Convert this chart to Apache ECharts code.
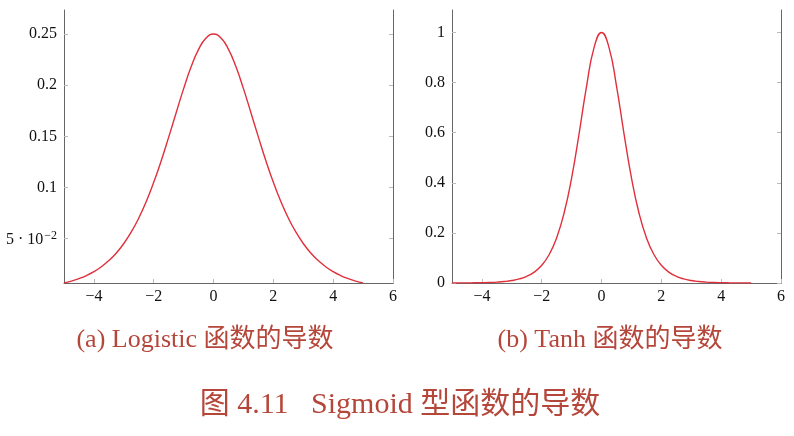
<!DOCTYPE html>
<html>
<head>
<meta charset="utf-8">
<script src="https://cdn.jsdelivr.net/npm/echarts@6/dist/echarts.min.js"></script>
<style>
  html, body {margin: 0; padding: 0; background: #fff;}
  #main {width: 794px; height: 436px;}
</style>
</head>
<body>
<div id="main"></div>
<script>
const xs = [-5, -4.75, -4.5, -4.25, -4, -3.75, -3.5, -3.25, -3, -2.75, -2.5, -2.25, -2, -1.75, -1.5, -1.25, -1, -0.75, -0.5, -0.25,
    0, 0.25, 0.5, 0.75, 1, 1.25, 1.5, 1.75, 2, 2.25, 2.5, 2.75, 3, 3.25, 3.5, 3.75, 4, 4.25, 4.5, 4.75, 5];

// (a) logistic derivative
const logisticVals = [0.0067, 0.0085, 0.0109, 0.0139, 0.0177, 0.0225, 0.0285, 0.0359, 0.0452, 0.0565, 0.0701, 0.0863, 0.105, 0.1261, 0.1492, 0.1731, 0.1966, 0.2179, 0.235, 0.2461,
    0.25, 0.2461, 0.235, 0.2179, 0.1966, 0.1731, 0.1492, 0.1261, 0.105, 0.0863, 0.0701, 0.0565, 0.0452, 0.0359, 0.0285, 0.0225, 0.0177, 0.0139, 0.0109, 0.0085, 0.0067];

// (b) tanh derivative
const tanhVals = [0.0002, 0.0003, 0.0005, 0.0008, 0.0013, 0.0022, 0.0036, 0.006, 0.0099, 0.0162, 0.0266, 0.0435, 0.0707, 0.1138, 0.1807, 0.2804, 0.42, 0.5966, 0.7865, 0.94,
    1, 0.94, 0.7865, 0.5966, 0.42, 0.2804, 0.1807, 0.1138, 0.0707, 0.0435, 0.0266, 0.0162, 0.0099, 0.006, 0.0036, 0.0022, 0.0013, 0.0008, 0.0005, 0.0003, 0.0002];

// tick labels
const xTicks = [-4, -2, 0, 2, 4, 6];
const yTicksA = [0.05, 0.1, 0.15, 0.2, 0.25];
const yTicksB = [0, 0.2, 0.4, 0.6, 0.8, 1];

const captionA = '(a) Logistic 函数的导数';
const captionB = '(b) Tanh 函数的导数';
const figCaption = '图 4.11   Sigmoid 型函数的导数';

const tickFont = {fontFamily: 'Liberation Serif', fontSize: 16, color: '#111'};
const capFont = {fontFamily: 'Liberation Serif, Noto Sans CJK SC', fontWeight: 'normal', color: '#b5463a'};
const lineColor = '#e0303c';

function pairs(vals) {
    return xs.map((x, i) => [x, vals[i]]);
}

function xAxisFor(gridIndex) {
    return {
        type: 'value', gridIndex: gridIndex, min: -5, max: 6,
        axisLine: {show: true, onZero: false, lineStyle: {color: '#666', width: 1}},
        axisTick: {show: true, inside: true, length: 4, customValues: xTicks, lineStyle: {color: '#bbb'}},
        axisLabel: Object.assign({
            customValues: xTicks, margin: 6,
            formatter: v => String(v).replace('-', '\u2212')
        }, tickFont),
        splitLine: {show: false}
    };
}

function yAxisFor(gridIndex, min, max, ticks, fmt, rich) {
    return [{
        type: 'value', gridIndex: gridIndex, min: min, max: max, position: 'left',
        axisLine: {show: true, onZero: false, lineStyle: {color: '#666', width: 1}},
        axisTick: {show: true, inside: true, length: 4, customValues: ticks, lineStyle: {color: '#bbb'}},
        axisLabel: Object.assign({customValues: ticks, margin: 7, formatter: fmt, rich: rich}, tickFont),
        splitLine: {show: false}
    }, {
        type: 'value', gridIndex: gridIndex, min: min, max: max, position: 'right',
        axisLine: {show: true, onZero: false, lineStyle: {color: '#666', width: 1}},
        axisTick: {show: true, inside: true, length: 4, customValues: ticks, lineStyle: {color: '#bbb'}},
        axisLabel: {show: false},
        splitLine: {show: false}
    }];
}

const supRich = {
    b: {fontFamily: 'Liberation Serif', fontSize: 16, color: '#111', lineHeight: 18, verticalAlign: 'bottom'},
    s: {fontFamily: 'Liberation Serif', fontSize: 12, color: '#111', lineHeight: 18, verticalAlign: 'top', padding: [0, 0, 0, 1]}
};

let option = {
    animation: false,
    backgroundColor: '#fff',
    grid: [
        {left: 64, right: 401, top: 10, bottom: 153},
        {left: 452, right: 13, top: 10, bottom: 153}
    ],
    xAxis: [xAxisFor(0), xAxisFor(1)],
    yAxis: [].concat(
        yAxisFor(0, 0.0066, 0.2735, yTicksA,
            v => Math.abs(v - 0.05) < 1e-9 ? '{b|5 · 10}{s|\u22122}' : String(v), supRich),
        yAxisFor(1, 0, 1.09, yTicksB, v => String(v))
    ),
    title: [
        {text: captionA, left: 200, top: 322, textAlign: 'center',
            textStyle: Object.assign({fontSize: 26}, capFont)},
        {text: captionB, left: 605, top: 322, textAlign: 'center',
            textStyle: Object.assign({fontSize: 26}, capFont)},
        {text: figCaption, left: 395, top: 385, textAlign: 'center',
            textStyle: Object.assign({fontSize: 30}, capFont)}
    ],
    series: [
        {
            type: 'line', xAxisIndex: 0, yAxisIndex: 0, data: pairs(logisticVals),
            smooth: true, showSymbol: false, lineStyle: {color: lineColor, width: 1.4}
        },
        {
            type: 'line', xAxisIndex: 1, yAxisIndex: 2, data: pairs(tanhVals),
            smooth: true, showSymbol: false, lineStyle: {color: lineColor, width: 1.4}
        }
    ]
};

let myChart = echarts.init(document.getElementById('main'));
myChart.setOption(option);
</script>
</body>
</html>
